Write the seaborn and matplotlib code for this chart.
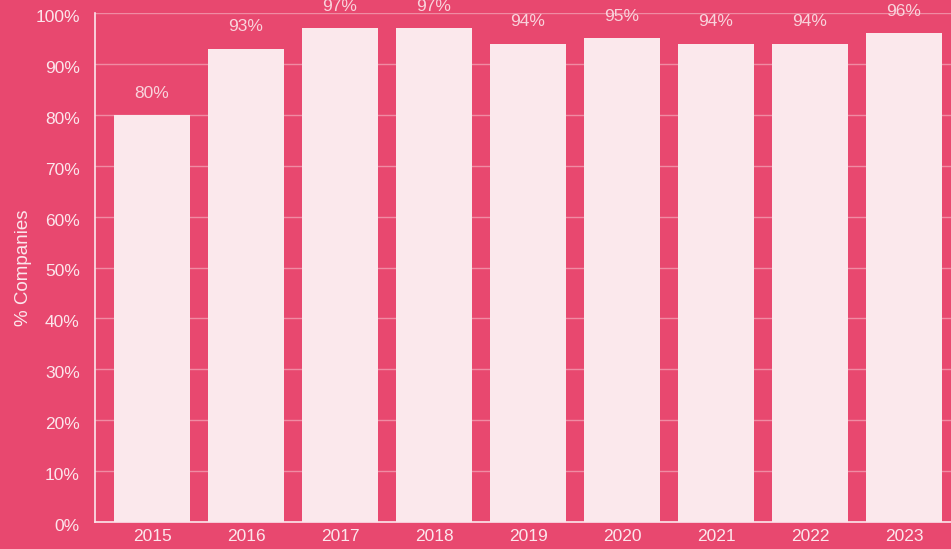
import matplotlib
matplotlib.use("Agg")
import matplotlib.pyplot as plt
import matplotlib.transforms as mtransforms
import seaborn as sns
import pandas as pd

# ── Data ─────────────────────────────────────────────────────────────────────
years = ["2015", "2016", "2017", "2018", "2019", "2020", "2021", "2022", "2023"]
pct_companies = [80, 93, 97, 97, 94, 95, 94, 94, 96]
y_ticks = [0, 10, 20, 30, 40, 50, 60, 70, 80, 90, 100]

BG = "#e8486f"
BAR = "#fbe8ec"
TXT = "#fce6ec"
GRID = "#f08ba3"

sns.set_style("white")
plt.rcParams["font.family"] = ["Liberation Sans", "DejaVu Sans"]

df = pd.DataFrame({"year": years, "pct": pct_companies})

fig = plt.figure(figsize=(9.51, 5.49), dpi=100, facecolor=BG)
ax = fig.add_axes([95 / 951, 1 - 522 / 549, 1 - 95 / 951, (522 - 13) / 549])
ax.set_facecolor(BG)

sns.barplot(data=df, x="year", y="pct", color=BAR, width=76 / 94,
            saturation=1, ax=ax, zorder=2)
for p in ax.patches:
    p.set_edgecolor("none")

ax.set_ylim(0, 100)
ax.set_xlim(-0.5 - 10 / 94, len(years) - 0.5)
ax.set_yticks(y_ticks)
ax.set_yticklabels([f"{t}%" for t in y_ticks])
ax.yaxis.grid(True, color=GRID, linewidth=1, zorder=0)
ax.set_axisbelow(True)

# value labels above each bar
for i, v in enumerate(pct_companies):
    ax.text(i, v + 2.8, f"{v}%", ha="center", va="bottom",
            color="#f9d3dc", fontsize=12.5, clip_on=False)

for side in ["top", "right"]:
    ax.spines[side].set_visible(False)
for side in ["left", "bottom"]:
    ax.spines[side].set_color(TXT)
    ax.spines[side].set_linewidth(1.2)
    ax.spines[side].set_zorder(3)

ax.tick_params(axis="both", length=0, colors=TXT, labelsize=12.5)
ax.tick_params(axis="y", pad=11)
ax.tick_params(axis="x", pad=5)

# y tick labels sit a few pixels below their grid lines in the reference
shift = mtransforms.ScaledTranslation(0, -3 / 100, fig.dpi_scale_trans)
for lbl in ax.get_yticklabels():
    lbl.set_transform(lbl.get_transform() + shift)

ax.set_xlabel("")
ax.set_ylabel("% Companies", color=TXT, fontsize=13.5, labelpad=2)

fig.savefig("out.png", dpi=100, facecolor=BG)
